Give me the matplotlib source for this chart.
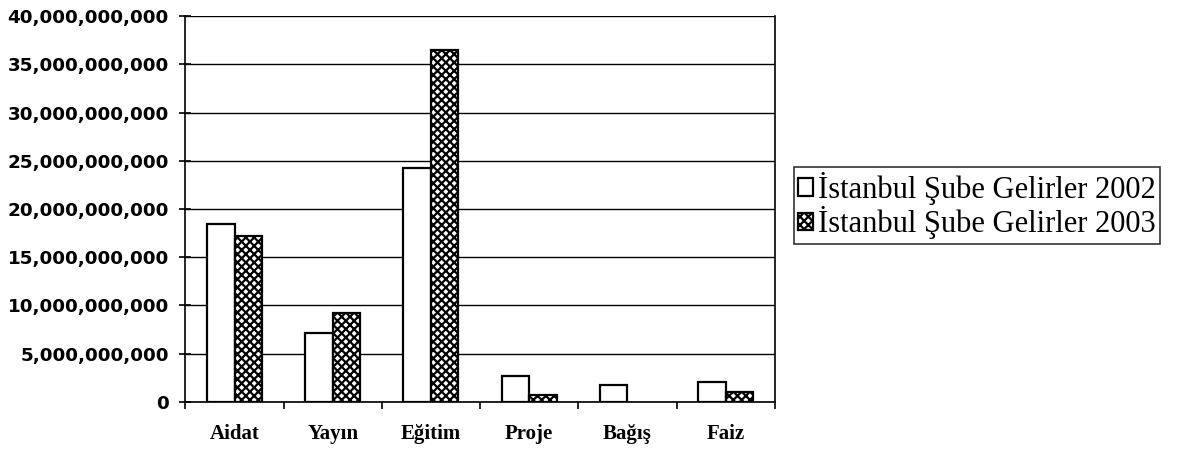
import matplotlib
matplotlib.use("Agg")
import matplotlib.pyplot as plt
import numpy as np
from matplotlib.ticker import FuncFormatter, FixedLocator

categories = ["Aidat", "Yayın", "Eğitim", "Proje", "Bağış", "Faiz"]
series_names = ["İstanbul Şube Gelirler 2002", "İstanbul Şube Gelirler 2003"]
gelir_2002 = [18.45e9, 7.1e9, 24.3e9, 2.65e9, 1.75e9, 2.05e9]
gelir_2003 = [17.2e9, 9.25e9, 36.5e9, 0.7e9, 0.0, 1.05e9]
y_ticks = [0, 5e9, 10e9, 15e9, 20e9, 25e9, 30e9, 35e9, 40e9]

plt.rcParams["hatch.linewidth"] = 1.6
fig = plt.figure(figsize=(11.81, 4.5), dpi=100)
ax = fig.add_axes([0.157, 0.107, 0.499, 0.857])

x = np.arange(len(categories))
w = 0.28
b1 = ax.bar(x - w / 2, gelir_2002, w, facecolor="white", edgecolor="black", linewidth=1.6,
            label=series_names[0], zorder=3)
b2 = ax.bar(x + w / 2, gelir_2003, w, facecolor="white", edgecolor="black", linewidth=1.6,
            hatch="xxxx", label=series_names[1], zorder=3)
for r, v in zip(b2, gelir_2003):
    if v == 0:
        r.set_visible(False)

ax.set_xlim(-0.5, len(categories) - 0.5)
ax.set_ylim(0, 40e9)
ax.set_yticks(y_ticks)
ax.yaxis.set_major_formatter(FuncFormatter(lambda v, p: f"{int(v):,}"))
ax.grid(axis="y", color="black", linewidth=1.0, zorder=0)
for s in ax.spines.values():
    s.set_color("black")
    s.set_linewidth(1.2)
ax.spines["top"].set_visible(False)

ax.set_xticks(x)
ax.set_xticklabels(categories, fontfamily="Liberation Serif", fontweight="bold", fontsize=15)
ax.tick_params(axis="x", length=0, pad=16)
ax.xaxis.set_minor_locator(FixedLocator(np.arange(-0.5, len(categories) + 0.5, 1)))
ax.tick_params(axis="x", which="minor", length=5, width=1.2, direction="out")
for lab in ax.get_yticklabels():
    lab.set_fontfamily("DejaVu Sans")
    lab.set_fontweight("bold")
    lab.set_fontsize(13.2)
ax.tick_params(axis="y", length=8, width=1.2, direction="inout", pad=8)

leg = fig.legend(handles=[b1, b2], labels=series_names, loc="center left",
                 bbox_to_anchor=(0.672, 0.543), prop={"family": "Liberation Serif", "size": 22},
                 frameon=True, fancybox=False, edgecolor="black", handlelength=0.5,
                 handleheight=0.5, handletextpad=0.15, borderpad=0.15, labelspacing=0.05,
                 borderaxespad=0)
leg.get_frame().set_linewidth(1.2)

fig.savefig("out.png", dpi=100, facecolor="white")
